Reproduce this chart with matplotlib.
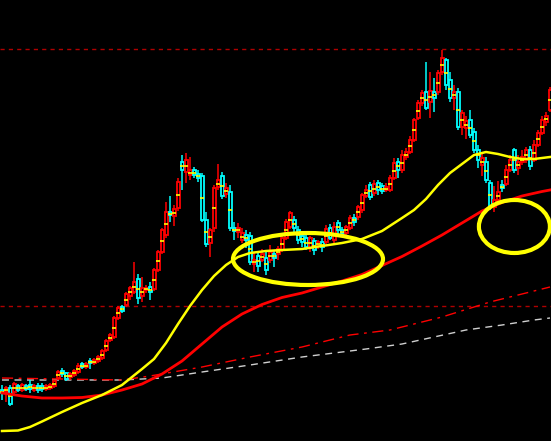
import matplotlib
matplotlib.use("Agg")
import matplotlib.pyplot as plt
from matplotlib.patches import Ellipse

# ---- candle data (price units) ----
opens = [51,49,53,49,55,51,55,56,51,55,55,52,53,55,63,70,68,64,66,69,
         77,74,80,78,80,83,91,101,104,123,134,136,145,149,162,145,151,154,152,171,
         189,206,229,225,233,279,269,266,271,267,265,221,198,213,254,265,247,249,213,209,
         201,206,205,177,185,181,183,181,187,187,191,203,214,221,211,205,203,193,200,196,
         199,199,213,201,218,211,208,213,223,224,231,245,256,248,258,255,251,251,263,279,
         271,284,289,301,323,338,349,339,349,349,369,381,361,343,349,314,313,321,309,291,
         276,279,258,234,241,256,257,271,291,273,279,281,291,281,296,308,319,331]
closes = [48,53,37,57,51,56,52,52,55,51,52,55,56,60,69,67,62,67,70,75,
          74,77,78,81,84,90,100,106,123,133,130,147,153,159,143,153,153,149,171,189,
          211,229,226,232,259,271,281,271,266,263,221,197,211,253,261,245,253,213,210,213,
          208,201,179,181,175,187,171,189,183,192,203,219,228,213,201,199,194,203,191,199,
          194,212,203,214,211,208,214,223,219,234,246,251,244,257,251,250,254,263,278,271,
          286,289,301,321,338,348,333,350,343,368,383,356,343,349,314,328,320,306,291,281,
          283,261,234,241,249,253,271,281,271,279,284,291,275,296,308,321,325,351]
highs = [56,55,56,59,57,58,57,61,57,58,58,57,58,61,71,73,69,69,72,78,
         79,79,83,83,86,92,102,108,125,135,136,149,155,179,167,164,156,159,173,191,
         213,239,245,236,263,286,288,284,274,271,268,229,213,256,277,269,258,256,219,218,
         213,211,209,189,189,192,189,196,191,195,205,222,230,225,215,209,207,205,203,201,
         203,216,217,219,221,214,216,226,227,236,248,256,259,261,261,258,258,266,283,283,
         291,293,305,323,341,351,379,369,363,371,391,383,369,356,353,331,325,331,313,296,
         289,284,261,255,260,261,276,286,293,286,291,294,295,301,311,325,329,354]
lows = [41,39,35,47,49,49,50,48,49,48,49,50,51,53,61,64,60,62,64,67,
        72,72,72,76,78,81,89,99,102,121,128,134,141,147,137,139,148,141,150,169,
        187,203,219,215,230,251,258,261,263,259,219,194,184,209,251,242,243,210,201,203,
        198,193,176,169,169,179,166,178,174,181,189,201,212,209,197,194,191,189,186,192,
        189,196,201,198,207,205,205,211,215,221,228,243,241,245,246,247,249,249,261,263,
        268,281,287,299,321,335,331,323,329,346,366,351,339,331,311,306,302,303,288,273,
        265,258,231,229,236,249,255,269,268,266,276,278,271,279,294,306,315,329]

# ---- indicator lines (sampled at candle indices) ----
ma_yellow_idx = [0,4,7,10,15,20,25,30,35,38,41,44,47,50,53,56,59,62,66,70,75,80,85,90,95,
                 100,103,106,109,112,115,118,121,124,127,130,133,137]
ma_yellow = [10,10.5,14,19.5,29,38,46,56,72,82,98,117,135,151,165,176,184,188,190,191,192,195,198,202,210,
             223,231,242,256,268,277,286,289,287,284,282,282,284]
ma_red_idx = [0,5,10,15,20,25,30,35,40,45,50,55,60,65,70,75,80,85,90,95,100,105,110,115,120,125,130,135,137]
ma_red = [48,45,43,43,43.5,46,51,57,67,80,97,114,127,136.5,143.5,148,154,160,166.5,175.5,184.5,195,206,218,230,238.5,245,249.5,251]
ma_dashdot_idx = [0,30,37,50,62,75,87,97,110,122,137]
ma_dashdot = [63,61,65,74,84,94,106,111,124,139,154]
ma_white_idx = [0,30,40,50,62,75,83,91,100,108,116,125,133,137]
ma_white = [61,61,63,69,76,84,88,92,97,104,111,116,121,123]

level_lines = [392, 135]

# highlighted zones: (center index, center price, width in candles, height in price)
zones = [(76.5, 182, 37.5, 52), (128.1, 214.5, 17.75, 53)]

fig = plt.figure(figsize=(5.51, 4.41), dpi=100, facecolor="black")
ax = fig.add_axes([0, 0, 1, 1])
ax.set_facecolor("black")
ax.set_xlim(-0.5, 137.25)
ax.set_ylim(0, 441)
ax.axis("off")

for lv in level_lines:
    ax.axhline(lv, color="#b00000", lw=1, dashes=(3, 3), zorder=1)

ax.plot(ma_white_idx, ma_white, color="#d0d0d0", lw=1, dashes=(5, 4), zorder=2)
ax.plot(ma_dashdot_idx, ma_dashdot, color="#ff0000", lw=1, dashes=(8, 4, 2, 4), zorder=2)

n = len(opens)
xs = list(range(n))
colors = ["#ff0000" if c >= o else "#00ffff" for o, c in zip(opens, closes)]
ax.vlines(xs, lows, highs, colors=colors, lw=1.1, zorder=3)
bottoms = [min(o, c) for o, c in zip(opens, closes)]
heights = [max(abs(c - o), 0.3) for o, c in zip(opens, closes)]
ax.bar(xs, heights, bottom=bottoms, width=0.75, color="black",
       edgecolor=colors, linewidth=1.3, zorder=4)
mids = [(o + c) / 2 for o, c in zip(opens, closes)]
ax.hlines(mids, [x - 0.38 for x in xs], [x + 0.38 for x in xs],
          colors="#ffff00", lw=1.2, zorder=5)

ax.plot(ma_red_idx, ma_red, color="#ff0000", lw=2, zorder=6, solid_joinstyle="round")
ax.plot(ma_yellow_idx, ma_yellow, color="#ffff00", lw=1.8, zorder=6, solid_joinstyle="round")

for cx, cy, w, h in zones:
    ax.add_patch(Ellipse((cx, cy), w, h, fill=False, edgecolor="#ffff00", lw=3, zorder=7))

fig.savefig("out.png", dpi=100, facecolor="black")
